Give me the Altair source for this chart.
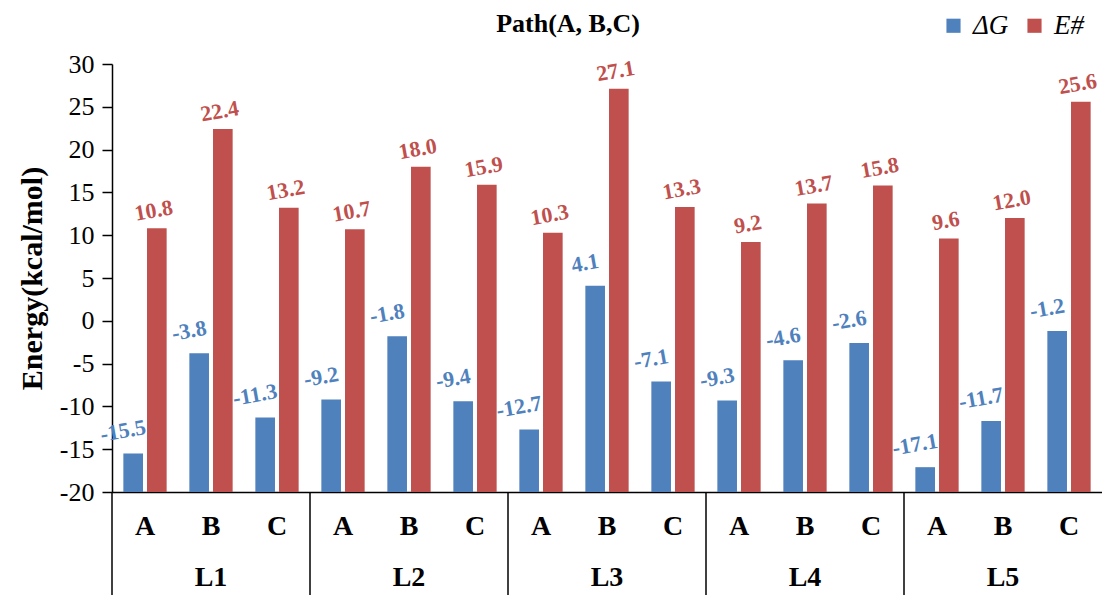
import altair as alt
import pandas as pd

groups = ["L1", "L2", "L3", "L4", "L5"]
paths = ["A", "B", "C"]
dG = [-15.5, -3.8, -11.3, -9.2, -1.8, -9.4, -12.7, 4.1, -7.1, -9.3, -4.6, -2.6, -17.1, -11.7, -1.2]
Ea = [10.8, 22.4, 13.2, 10.7, 18.0, 15.9, 10.3, 27.1, 13.3, 9.2, 13.7, 15.8, 9.6, 12.0, 25.6]
series = ["ΔG", "E#"]
colors = ["#4F81BD", "#C0504D"]
yticks = list(range(-20, 31, 5))
title_text = "Path(A, B,C)"

FONT = "'Liberation Serif', 'Times New Roman', serif"
W, H = 990, 428

keys = []
rows = []
for gi, g in enumerate(groups):
    for pi, p in enumerate(paths):
        k = f"{g}|{p}"
        keys.append(k)
        i = gi * 3 + pi
        for s, v in ((series[0], dG[i]), (series[1], Ea[i])):
            rows.append(dict(key=k, group=g, path=p, series=s, value=v, base=-20,
                             label=f"{v:.1f}"))
df = pd.DataFrame(rows)

sep_df = pd.DataFrame({"key": [f"{g}|A" for g in groups]})
grp_df = pd.DataFrame({"key": [f"{g}|B" for g in groups], "group": groups})
title_df = pd.DataFrame({"t": [title_text]})

xscale = alt.Scale(paddingInner=0, paddingOuter=0)
x_enc = alt.X(
    "key:N", sort=keys, scale=xscale, title=None,
    axis=alt.Axis(
        labelExpr="split(datum.value, '|')[1]", labelAngle=0, ticks=False,
        labelFont=FONT, labelFontSize=28, labelFontWeight="bold", labelColor="black",
        labelPadding=20, domainColor="black", domainWidth=1.5,
    ),
)
xoff = alt.XOffset("series:N", sort=series, scale=alt.Scale(paddingInner=0.17, paddingOuter=0.48))
y_enc = alt.Y(
    "value:Q",
    scale=alt.Scale(domain=[-20, 30], zero=False, nice=False),
    axis=alt.Axis(
        values=yticks, grid=False, tickSize=10, tickColor="black", tickWidth=1.5,
        domainColor="black", domainWidth=1.5,
        labelExpr="datum.value < 0 ? '-' + (-datum.value) : '' + datum.value",
        labelFont=FONT, labelFontSize=26, labelColor="black", labelPadding=8,
        title="Energy(kcal/mol)", titleFont=FONT, titleFontSize=30,
        titleFontWeight="bold", titleColor="black", titlePadding=12,
    ),
)
color_scale = alt.Scale(domain=series, range=colors)
color_enc = alt.Color(
    "series:N", sort=series, scale=color_scale,
    legend=alt.Legend(
        orient="none", legendX=828, legendY=-52, direction="horizontal", title=None,
        symbolType="square", symbolSize=200, symbolStrokeWidth=0,
        labelFont=FONT, labelFontSize=27, labelFontStyle="italic", labelColor="black",
        columnPadding=12, labelOffset=6,
    ),
)

bars = alt.Chart(df).mark_bar().encode(
    x=x_enc, xOffset=xoff, y=y_enc, y2=alt.Y2("base:Q"), color=color_enc
)


def value_labels(sname, dx, dy):
    return alt.Chart(df).transform_filter(alt.datum.series == sname).mark_text(
        angle=350, font=FONT, fontSize=22, fontWeight="bold", baseline="middle",
        dx=dx, dy=dy,
    ).encode(
        x=alt.X("key:N", sort=keys, scale=xscale),
        xOffset=xoff,
        y=alt.Y("value:Q"),
        text=alt.Text("label:N"),
        color=alt.Color("series:N", sort=series, scale=color_scale, legend=None),
    )


labels_g = value_labels(series[0], -6, -24)
labels_e = value_labels(series[1], 0, -18)

seps = alt.Chart(sep_df).mark_rule(color="black", strokeWidth=1.5).encode(
    x=alt.X("key:N", sort=keys, scale=xscale, bandPosition=0),
    y=alt.value(H),
    y2=alt.value(H + 105),
)

glabels = alt.Chart(grp_df).mark_text(
    font=FONT, fontSize=28, fontWeight="bold", baseline="middle", color="black"
).encode(
    x=alt.X("key:N", sort=keys, scale=xscale),
    y=alt.value(H + 86),
    text="group:N",
)

title = alt.Chart(title_df).mark_text(
    font=FONT, fontSize=26, fontWeight="bold", baseline="middle", color="black"
).encode(
    x=alt.value(456),
    y=alt.value(-40),
    text="t:N",
)

chart = alt.layer(bars, labels_g, labels_e, seps, glabels, title).properties(
    width=W, height=H,
    autosize=alt.AutoSizeParams(type="none"),
    padding={"left": 104, "top": 56, "right": 0, "bottom": 103},
).configure_view(stroke=None)

chart.save("out.html", embed_options={"renderer": "svg", "actions": False})
